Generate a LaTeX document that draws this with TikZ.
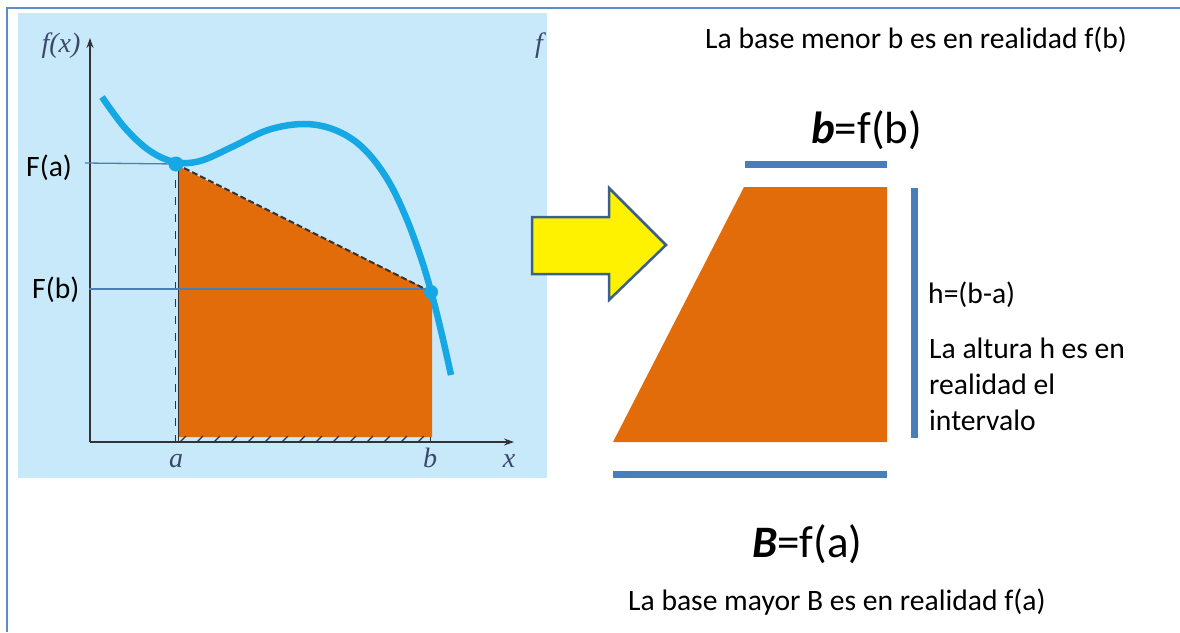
\documentclass[tikz,border=0pt]{standalone}
\usepackage{fontspec}
\setmainfont{Carlito}
\newfontfamily\serifit{Liberation Serif}
\usetikzlibrary{arrows.meta}
\definecolor{panel}{RGB}{200,233,250}
\definecolor{frameblue}{RGB}{95,140,205}
\definecolor{barblue}{RGB}{74,126,187}
\definecolor{orng}{RGB}{227,108,10}
\definecolor{curvec}{RGB}{22,168,228}
\definecolor{axisc}{RGB}{50,50,55}
\definecolor{lblc}{RGB}{60,72,105}
\definecolor{arrowedge}{RGB}{60,95,140}
\tikzset{
  txt/.style={inner sep=0pt, anchor=base west, font=\fontsize{29.6}{34}\selectfont},
  bigtxt/.style={inner sep=0pt, anchor=base west, font=\fontsize{45}{50}\selectfont},
  axlbl/.style={inner sep=0pt, anchor=base, text=lblc, font=\fontsize{28}{30}\selectfont\serifit\itshape},
  bar/.style={draw=barblue, line width=6.5pt},
  guide/.style={draw=barblue, line width=1.3pt},
  axis/.style={draw=axisc, line width=1.5pt, -{Stealth[length=10pt,width=7pt]}},
  hatch/.style={draw=axisc, line width=1.1pt},
}
\begin{document}
\begin{tikzpicture}[x=1pt,y=-1pt]
\useasboundingbox (0,0) rectangle (1180,632);
% outer frame (top and left)
\draw[frameblue, line width=2pt] (7,632) -- (7,8) -- (1180,8);
% panel
\fill[panel] (17.5,12.5) rectangle (547,478);
% orange area
\fill[orng] (178,166) -- (432,292) -- (432,437) -- (178,437) -- cycle;
% hatching
\foreach \x in {180,197,...,430} \draw[hatch] (\x,442) -- (\x+6,436);
\foreach \y in {180,197,...,435} \draw[hatch] (175.5,\y) -- (175.5,\y+8);
\draw[axisc, line width=1.3pt] (178.5,166) -- (178.5,442);
\draw[axisc, line width=1pt] (430,437) -- (430,442);
% axes
\coordinate (O) at (90,442);
\coordinate (Ytop) at (90,38);
\coordinate (Xend) at (514,442);
\draw[axis] (O) -- (Ytop);
\draw[axis] (O) -- (Xend);
% guide lines
\coordinate (FaL) at (85,163);
\coordinate (FbL) at (89,289);
\coordinate (Pa) at (176,164);
\coordinate (Pb) at (431,292);
\draw[guide] (FaL) -- (Pa);
\draw[guide] (FbL) -- (Pb |- FbL);
% dashed chord
\draw[axisc, line width=2pt, dash pattern=on 6pt off 3pt] (Pa) -- (Pb);
% curve
\draw[curvec, line width=6.5pt, line cap=butt] plot[smooth, tension=0.6] coordinates {
 (102,97) (125,128) (150,151) (175,162) (200,161) (232,147) (268,130) (304,124) (335,130) (362,147) (386,177) (405,215) (421,258) (432,295) (442,335) (451,375)};
\fill[curvec] (Pa) circle (7.5pt);
\fill[curvec] (Pb) circle (7pt);
% axis labels
\node[axlbl] (fx) at (61,52) {f(x)};
\node[axlbl] (ftr) at (539,52) {f};
\node[axlbl] (la) at (176,467) {a};
\node[axlbl] (lb) at (430,467) {b};
\node[axlbl] (lx) at (509,467) {x};
\node[txt] (Fa) at (26,176) {F(a)};
\node[txt] (Fb) at (32,298) {F(b)};
% yellow arrow
\draw[fill=yellow, draw=arrowedge, line width=2.5pt, line join=miter]
 (532,217) -- (609,217) -- (609,188) -- (666,245) -- (609,300) -- (609,274) -- (532,274) -- cycle;
% trapezoid
\fill[orng] (613,442) -- (887,442) -- (887,187) -- (744,187) -- cycle;
\coordinate (tb1) at (745,164.5);
\coordinate (tb2) at (887,164.5);
\coordinate (bb1) at (613,474.5);
\coordinate (bb2) at (887,474.5);
\coordinate (rb1) at (914.5,188);
\coordinate (rb2) at (914.5,438);
\draw[bar] (tb1) -- (tb2);
\draw[bar] (bb1) -- (bb2);
\draw[bar] (rb1) -- (rb2);
% texts
\node[txt] (top) at (705,48) {La base menor b es en realidad f(b)};
\node[bigtxt] (bfb) at (811,143) {\textbf{\textit{b}}=f(b)};
\node[txt] (h) at (928,303) {h=(b-a)};
\node[txt] (alt1) at (929,358) {La altura h es en};
\node[txt] (alt2) at (929,394) {realidad el};
\node[txt] (alt3) at (929,430) {intervalo};
\node[bigtxt] (Bfa) at (752,557) {\textbf{\textit{B}}=f(a)};
\node[txt] (bot) at (628,610) {La base mayor B es en realidad f(a)};
\end{tikzpicture}
\end{document}
